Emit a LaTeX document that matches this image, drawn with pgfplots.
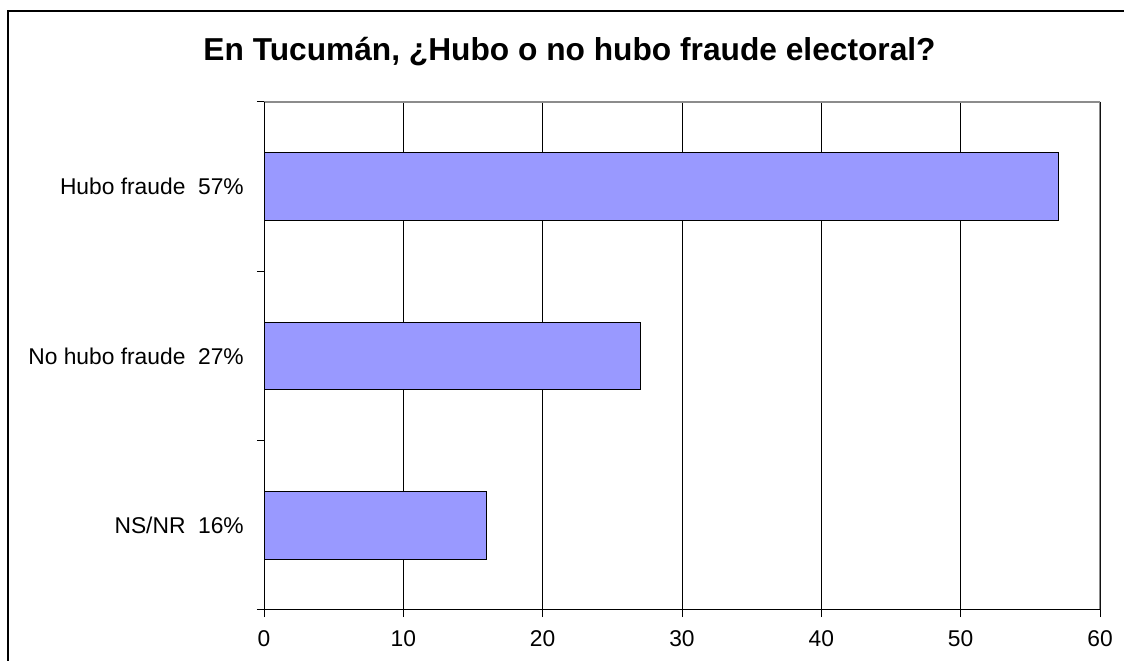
\documentclass[border=0pt]{standalone}
\usepackage{pgfplots}
\pgfplotsset{compat=1.18}
\usepackage{fontspec}
\setmainfont{Liberation Sans}
\definecolor{barblue}{RGB}{153,153,255}
\definecolor{bordergray}{RGB}{140,140,140}
\begin{document}
\begin{tikzpicture}[x=1pt,y=1pt]
\useasboundingbox (0,0) rectangle (1124,661);
\clip (0,0) rectangle (1124,661);
\fill[white] (0,0) rectangle (1124,661);
\draw[line width=2pt] (8,-20) -- (8,650) -- (1140,650);
\node[anchor=base, font=\bfseries\fontsize{31.7}{38}\selectfont] at (569.5,600) {En Tucumán, ¿Hubo o no hubo fraude electoral?};
\begin{axis}[
  at={(264pt,51pt)}, anchor=south west,
  scale only axis, width=836pt, height=508pt,
  xmin=0, xmax=60, ymin=-0.5, ymax=2.5,
  xtick={0,10,20,30,40,50,60},
  ytick={-0.5,0.5,1.5,2.5}, yticklabels={},
  extra y ticks={0,1,2},
  extra y tick labels={NS/NR\ \ 16\%, No hubo fraude\ \ 27\%, Hubo fraude\ \ 57\%},
  extra y tick style={major tick length=0pt, yticklabel style={inner sep=0pt, anchor=east, xshift=-20pt}},
  tick align=outside, xtick pos=bottom, ytick pos=left,
  major tick length=7pt,
  tick style={black, line width=1pt},
  xmajorgrids, major x grid style={black, line width=1pt},
  axis line style={draw=none},
  tick label style={font=\fontsize{22.8}{27}\selectfont},
  xticklabel style={inner sep=0pt, anchor=north, yshift=-13pt},
  /pgf/number format/assume math mode=true,
]
\addplot[xbar, bar width=0.4, fill=barblue, draw=black, line width=1pt] coordinates {(16,0) (27,1) (57,2)};
\draw[bordergray, line width=1.5pt] (rel axis cs:0,1) -- (rel axis cs:1,1) -- (rel axis cs:1,0);
\draw[black, line width=1.5pt] (rel axis cs:0,1) -- (rel axis cs:0,0) -- (rel axis cs:1,0);
\end{axis}
\end{tikzpicture}
\end{document}
